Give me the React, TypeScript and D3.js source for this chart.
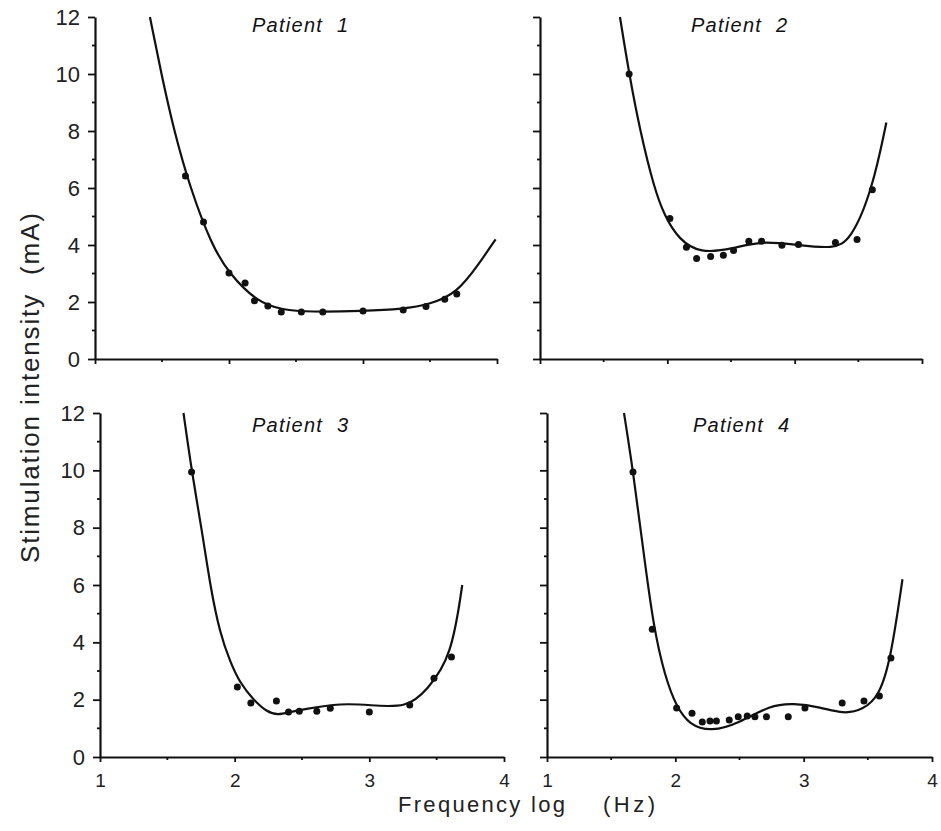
import React, { useEffect, useRef } from "react";
import * as d3 from "d3";

// measured points (log frequency, intensity mA)
const p1Freq = [1.675, 1.81, 2.0, 2.12, 2.19, 2.29, 2.39, 2.54, 2.7, 3.0, 3.3, 3.47, 3.61, 3.7];
const p1Int = [6.42, 4.81, 3.02, 2.67, 2.04, 1.86, 1.65, 1.65, 1.65, 1.68, 1.72, 1.84, 2.1, 2.28];
// fitted curve
const p1CurveFreq = [1.41, 1.495, 1.59, 1.71, 1.87, 2.0, 2.21, 2.4, 2.6, 3.0, 3.3, 3.5, 3.7, 3.87, 3.99];
const p1CurveInt = [12, 10, 8, 6, 4, 3.0, 2.0, 1.72, 1.65, 1.68, 1.75, 1.92, 2.3, 3.37, 4.2];

const p2Freq = [1.7, 2.02, 2.15, 2.23, 2.34, 2.44, 2.52, 2.64, 2.74, 2.9, 3.03, 3.32, 3.49, 3.61];
const p2Int = [10.0, 4.93, 3.92, 3.53, 3.6, 3.64, 3.81, 4.13, 4.13, 3.99, 4.02, 4.09, 4.19, 5.94];
const p2CurveFreq = [1.628, 1.7, 1.786, 1.896, 1.98, 2.09, 2.257, 2.52, 2.73, 3.04, 3.3, 3.44, 3.61, 3.72];
const p2CurveInt = [12, 10, 8, 6, 5, 4.2, 3.7, 3.87, 4.15, 3.99, 3.87, 4.15, 5.94, 8.3];

const p3Freq = [1.68, 2.02, 2.12, 2.31, 2.4, 2.48, 2.61, 2.71, 3.0, 3.3, 3.48, 3.61];
const p3Int = [9.94, 2.44, 1.88, 1.95, 1.57, 1.6, 1.6, 1.7, 1.57, 1.81, 2.75, 3.49];
const p3CurveFreq = [1.62, 1.68, 1.76, 1.82, 1.89, 1.97, 2.04, 2.14, 2.24, 2.32, 2.41, 2.5, 2.8, 3.0, 3.28, 3.43, 3.61, 3.69];
const p3CurveInt = [12, 10, 7.81, 5.93, 4.32, 3.28, 2.58, 1.99, 1.57, 1.46, 1.57, 1.66, 1.88, 1.81, 1.71, 2.34, 3.49, 6.0];

const p4Freq = [1.67, 1.82, 2.01, 2.13, 2.21, 2.27, 2.32, 2.42, 2.49, 2.56, 2.62, 2.71, 2.88, 3.01, 3.3, 3.47, 3.59, 3.68];
const p4Int = [9.94, 4.46, 1.71, 1.53, 1.22, 1.26, 1.26, 1.29, 1.4, 1.43, 1.4, 1.4, 1.4, 1.71, 1.88, 1.95, 2.13, 3.45];
const p4CurveFreq = [1.6, 1.67, 1.75, 1.83, 1.92, 2.01, 2.11, 2.28, 2.5, 2.74, 2.92, 3.13, 3.31, 3.46, 3.59, 3.68, 3.77];
const p4CurveInt = [12, 10, 7.22, 4.53, 2.79, 1.74, 1.12, 0.88, 1.19, 1.81, 1.88, 1.74, 1.5, 1.64, 2.13, 3.45, 6.2];

const panelTitles = ["Patient  1", "Patient  2", "Patient  3", "Patient  4"];
const yTicks = [0, 2, 4, 6, 8, 10, 12];
const xTicks = [1, 2, 3, 4];

const FONT = "'Liberation Sans', Arial, Helvetica, sans-serif";

const App = () => {
  const ref = useRef<SVGSVGElement>(null);

  useEffect(() => {
    if (!ref.current) return;
    const svg = d3.select(ref.current);
    svg.selectAll("*").remove();

    const panels = [
      { title: panelTitles[0], fx: p1Freq, fy: p1Int, cx: p1CurveFreq, cy: p1CurveInt, xr: [95, 497], yr: [359, 17], yLabels: true, xLabels: false, tx: 252, ty: 32 },
      { title: panelTitles[1], fx: p2Freq, fy: p2Int, cx: p2CurveFreq, cy: p2CurveInt, xr: [540, 922], yr: [359, 17], yLabels: false, xLabels: false, tx: 691, ty: 32 },
      { title: panelTitles[2], fx: p3Freq, fy: p3Int, cx: p3CurveFreq, cy: p3CurveInt, xr: [100, 504], yr: [757, 413], yLabels: true, xLabels: true, tx: 252, ty: 432 },
      { title: panelTitles[3], fx: p4Freq, fy: p4Int, cx: p4CurveFreq, cy: p4CurveInt, xr: [547, 932], yr: [757, 413], yLabels: false, xLabels: true, tx: 693, ty: 432 },
    ];

    panels.forEach(p => {
      const x = d3.scaleLinear().domain([1, 4]).range(p.xr);
      const y = d3.scaleLinear().domain([0, 12]).range(p.yr);
      const g = svg.append("g");

      // y axis
      const ya = g.append("g")
        .attr("transform", `translate(${p.xr[0]},0)`)
        .call(
          d3.axisLeft(y)
            .tickValues(yTicks)
            .tickSize(7)
            .tickPadding(8)
            .tickSizeOuter(0)
            .tickFormat(d => (p.yLabels ? String(d) : ""))
        );
      ya.select(".domain").attr("stroke-width", 2.2).attr("stroke", "#111");
      ya.selectAll(".tick line").attr("stroke-width", 1.8).attr("stroke", "#111");
      ya.selectAll("text")
        .style("font-family", FONT)
        .style("font-size", "22px")
        .attr("fill", "#222");
      // minor y ticks
      g.selectAll(".ymin")
        .data(d3.range(1, 12, 2))
        .join("line")
        .attr("x1", p.xr[0] - 3)
        .attr("x2", p.xr[0])
        .attr("y1", d => y(d))
        .attr("y2", d => y(d))
        .attr("stroke", "#111")
        .attr("stroke-width", 1.8);

      // x axis
      const xa = g.append("g")
        .attr("transform", `translate(0,${p.yr[0]})`)
        .call(
          d3.axisBottom(x)
            .tickValues(xTicks)
            .tickSize(5)
            .tickPadding(12)
            .tickSizeOuter(0)
            .tickFormat(d => (p.xLabels ? String(d) : ""))
        );
      xa.select(".domain").attr("stroke-width", 2.2).attr("stroke", "#111");
      xa.selectAll(".tick line").attr("stroke-width", 1.8).attr("stroke", "#111");
      xa.selectAll("text")
        .style("font-family", FONT)
        .style("font-size", "19px")
        .attr("fill", "#222");
      g.selectAll(".xmin")
        .data([1.5, 2.5, 3.5])
        .join("line")
        .attr("x1", d => x(d))
        .attr("x2", d => x(d))
        .attr("y1", p.yr[0])
        .attr("y2", p.yr[0] + 3)
        .attr("stroke", "#111")
        .attr("stroke-width", 1.8);

      // fitted curve
      const curve = p.cx.map((v, i) => [v, p.cy[i]] as [number, number]);
      g.append("path")
        .datum(curve)
        .attr("fill", "none")
        .attr("stroke", "#111")
        .attr("stroke-width", 2.2)
        .attr("d", d3.line<[number, number]>()
          .x(d => x(d[0]))
          .y(d => y(d[1]))
          .curve(d3.curveBasis));

      // points
      g.selectAll(".pt")
        .data(p.fx.map((v, i) => [v, p.fy[i]]))
        .join("circle")
        .attr("cx", d => x(d[0]))
        .attr("cy", d => y(d[1]))
        .attr("r", 3.5)
        .attr("fill", "#111");

      g.append("text")
        .attr("x", p.tx)
        .attr("y", p.ty)
        .attr("xml:space", "preserve")
        .attr("textLength", 96)
        .attr("lengthAdjust", "spacing")
        .style("font-family", FONT)
        .style("font-style", "italic")
        .style("font-size", "20px")
        .style("white-space", "pre")
        .attr("fill", "#111")
        .text(p.title);
    });

    svg.append("text")
      .attr("transform", "translate(39,563) rotate(-90)")
      .attr("xml:space", "preserve")
      .attr("textLength", 350)
      .attr("lengthAdjust", "spacing")
      .style("font-family", FONT)
      .style("font-size", "26px")
      .style("white-space", "pre")
      .attr("fill", "#222")
      .text("Stimulation intensity  (mA)");

    const xt = svg.append("text")
      .attr("y", 812)
      .style("font-family", FONT)
      .style("font-size", "22px")
      .attr("fill", "#222");
    xt.append("tspan").attr("x", 398).attr("textLength", 167).attr("lengthAdjust", "spacing").text("Frequency log");
    xt.append("tspan").attr("x", 603).attr("textLength", 52).attr("lengthAdjust", "spacing").text("(Hz)");
  }, []);

  return (
    <svg
      ref={ref}
      width={941}
      height={831}
      style={{ position: "absolute", left: 0, top: 0, background: "#fff" }}
    />
  );
};

export default App;
